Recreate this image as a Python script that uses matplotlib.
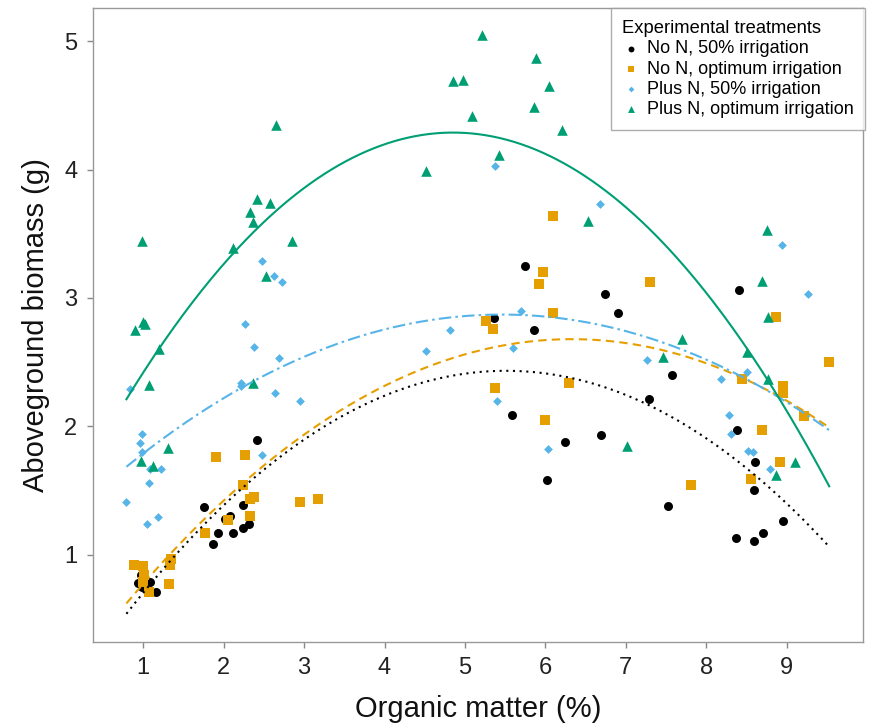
import numpy as np
import matplotlib
matplotlib.use("Agg")
import matplotlib.pyplot as plt

plt.rcParams['font.family'] = ['Liberation Sans', 'DejaVu Sans']

# ---- data ----
labels = ["No N, 50% irrigation", "No N, optimum irrigation",
          "Plus N, 50% irrigation", "Plus N, optimum irrigation"]

noN50_x = [0.97, 0.94, 1.08, 1.16, 0.98,
           1.75, 1.87, 1.93, 2.02, 2.08, 2.12, 2.24, 2.24, 2.32, 2.41,
           5.75, 5.36, 5.86, 6.74, 6.90, 7.58, 7.29, 5.58, 6.69, 6.24, 6.02, 7.52,
           8.41, 8.38, 8.61, 8.60, 8.95, 8.37, 8.59, 8.71]
noN50_y = [0.84, 0.78, 0.79, 0.71, 0.75,
           1.37, 1.08, 1.17, 1.28, 1.30, 1.17, 1.39, 1.21, 1.24, 1.89,
           3.25, 2.84, 2.75, 3.03, 2.88, 2.40, 2.21, 2.09, 1.93, 1.88, 1.58, 1.38,
           3.06, 1.97, 1.72, 1.50, 1.26, 1.13, 1.11, 1.17]

noNopt_x = [0.88, 1.00, 1.00, 1.07, 1.33, 1.34, 1.32, 1.01,
            1.77, 1.90, 2.05, 2.24, 2.26, 2.33, 2.38, 2.33, 2.95, 3.17,
            6.10, 5.97, 5.92, 7.30, 6.09, 5.26, 5.35, 6.29, 5.37, 6.00, 7.81,
            8.87, 9.53, 8.45, 8.96, 8.95, 9.22, 8.69, 8.92, 8.56]
noNopt_y = [0.92, 0.91, 0.79, 0.71, 0.92, 0.97, 0.77, 0.84,
            1.17, 1.76, 1.27, 1.54, 1.78, 1.43, 1.45, 1.30, 1.41, 1.43,
            3.64, 3.20, 3.11, 3.12, 2.88, 2.82, 2.76, 2.34, 2.30, 2.05, 1.54,
            2.85, 2.50, 2.37, 2.31, 2.26, 2.08, 1.97, 1.72, 1.59]

plusN50_x = [2.48, 2.62, 2.73, 2.27, 2.38, 2.69, 0.84, 2.21, 2.21, 2.64, 2.95,
             0.98, 0.96, 0.99, 2.47, 1.08, 1.22, 1.07, 0.79, 1.05, 1.18,
             4.52, 5.37, 6.68, 5.70, 4.81, 5.60, 7.27, 5.40, 6.03,
             9.26, 8.94, 8.51, 8.19, 8.28, 8.31, 8.52, 8.58, 8.79]
plusN50_y = [3.29, 3.17, 3.12, 2.80, 2.62, 2.53, 2.29, 2.34, 2.31, 2.26, 2.20,
             1.94, 1.87, 1.80, 1.78, 1.67, 1.67, 1.56, 1.41, 1.24, 1.29,
             2.59, 4.03, 3.73, 2.90, 2.75, 2.61, 2.52, 2.20, 1.82,
             3.03, 3.41, 2.42, 2.37, 2.09, 1.94, 1.81, 1.80, 1.67]

plusNopt_x = [0.90, 1.00, 1.02, 0.98, 1.20, 1.07, 2.36, 1.31, 0.97, 1.12, 2.52,
              2.65, 2.41, 2.57, 2.33, 2.37, 2.11, 2.85, 4.51,
              5.21, 5.88, 4.85, 4.98, 6.05, 5.86, 5.09, 6.21, 5.42, 6.53,
              7.70, 7.46, 7.02,
              8.75, 8.70, 8.77, 8.51, 8.77, 9.11, 8.87]
plusNopt_y = [2.75, 2.81, 2.80, 3.44, 2.60, 2.32, 2.34, 1.83, 1.73, 1.69, 3.17,
              4.35, 3.77, 3.74, 3.67, 3.59, 3.39, 3.44, 3.99,
              5.05, 4.87, 4.69, 4.70, 4.65, 4.49, 4.42, 4.31, 4.11, 3.60,
              2.68, 2.54, 1.85,
              3.53, 3.13, 2.85, 2.58, 2.37, 1.72, 1.62]

# quadratic fit coefficients (a, b, c) of the drawn curves, y = a*x^2 + b*x + c
fit_noN50 = [-0.0849, 0.9359, -0.147]
fit_noNopt = [-0.0671, 0.8493, -0.0088]
fit_plusN50 = [-0.05437, 0.5937, 1.2495]
fit_plusNopt = [-0.1259, 1.2217, 1.324]
fit_range = [0.79, 9.53]

xticks = [1, 2, 3, 4, 5, 6, 7, 8, 9]
yticks = [1, 2, 3, 4, 5]

# ---- style ----
c_black = "#000000"
c_orange = "#E69F00"
c_blue = "#56B4E9"
c_green = "#009E73"

fig = plt.figure(figsize=(8.69, 7.24), dpi=100)
ax = fig.add_axes([0.1067, 0.1133, 0.8864, 0.8751])

series = [
    (noN50_x, noN50_y, fit_noN50, c_black, "o", 42, (0, (1, 2.2)), labels[0]),
    (noNopt_x, noNopt_y, fit_noNopt, c_orange, "s", 42, (0, (4, 2.5)), labels[1]),
    (plusN50_x, plusN50_y, fit_plusN50, c_blue, "D", 20, (0, (6, 2, 1.2, 2)), labels[2]),
    (plusNopt_x, plusNopt_y, fit_plusNopt, c_green, "^", 58, "-", labels[3]),
]

xx = np.linspace(fit_range[0], fit_range[1], 300)
for x, y, coef, col, mk, s, ls, lab in series:
    ax.scatter(x, y, s=s, c=col, marker=mk, linewidths=0, zorder=3, label=lab)
for x, y, coef, col, mk, s, ls, lab in series:
    ax.plot(xx, np.polyval(coef, xx), color=col, lw=1.5, linestyle=ls, zorder=4)

ax.set_xlim(0.371, 9.95)
ax.set_ylim(0.32, 5.255)
ax.set_xticks(xticks)
ax.set_yticks(yticks)
ax.tick_params(axis='both', direction='out', length=4, width=1, color='#888888',
               labelsize=17, labelcolor='#222222', pad=7)
for sp in ax.spines.values():
    sp.set_color('#999999')
    sp.set_linewidth(1)

ax.set_xlabel("Organic matter (%)", fontsize=21, color='#111111', labelpad=11)
ax.set_ylabel("Aboveground biomass (g)", fontsize=21, color='#111111', labelpad=10)

leg = ax.legend(title="Experimental treatments", loc="upper right",
                bbox_to_anchor=(1.003, 1.0), borderaxespad=0,
                fontsize=13, title_fontsize=13.2, markerscale=0.65,
                handletextpad=0.45, handlelength=0.9, labelspacing=0.18,
                frameon=True, fancybox=False, edgecolor='#999999',
                borderpad=0.65)
leg._legend_box.align = "left"
leg.get_frame().set_linewidth(1)

fig.savefig("out.png", dpi=100)
